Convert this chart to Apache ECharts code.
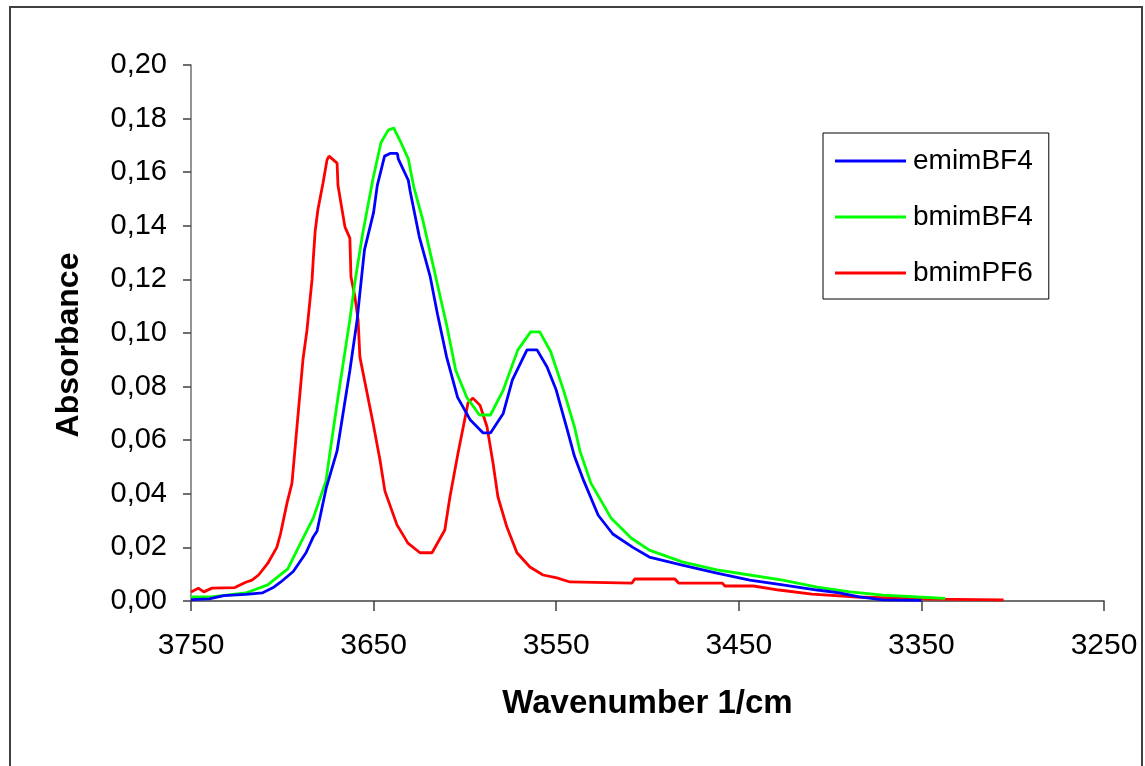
<!DOCTYPE html>
<html>
<head>
<meta charset="utf-8">
<script src="https://cdn.jsdelivr.net/npm/echarts@6/dist/echarts.min.js"></script>
<style>
html,body{margin:0;padding:0;background:#fff;}
#chart{width:1145px;height:766px;}
</style>
</head>
<body>
<div id="chart"></div>
<script>
// Wavenumber (1/cm) and absorbance values
var emimWn = [3750,3740,3732,3720,3711,3705,3701,3694,3687,3683,3681,3676,3670,3663,3659,3657.5,3655,3650,3648,3644,3641,3637,3636.5,3631,3630,3625,3619,3615,3610,3604,3597,3590,3586,3579,3574,3566,3560.5,3555,3550,3544,3540,3535,3527,3519,3508,3499,3481,3462,3444,3426,3407,3395,3384,3371,3350];
var emimAbs = [0.0005,0.0008,0.002,0.0025,0.003,0.005,0.007,0.011,0.018,0.024,0.026,0.042,0.056,0.086,0.105,0.115,0.131,0.145,0.155,0.166,0.167,0.167,0.165,0.157,0.153,0.136,0.121,0.107,0.091,0.076,0.0675,0.0627,0.0627,0.070,0.0825,0.0937,0.0937,0.0873,0.0787,0.064,0.054,0.045,0.032,0.025,0.020,0.0164,0.0134,0.0104,0.0078,0.006,0.0041,0.003,0.0015,0.0004,0.0002];

var bmimBF4Wn = [3750,3739,3720,3708,3697,3690,3683,3676,3674,3669.5,3663,3660,3656,3650.5,3646,3642,3639,3635,3631,3628,3623,3618,3610,3605,3599,3592,3586,3579,3571,3564,3559,3553,3546,3540,3537,3531,3520,3509,3499,3481,3462,3444,3426,3407,3389,3371,3352,3337];
var bmimBF4Abs = [0.0015,0.0015,0.003,0.006,0.012,0.0216,0.031,0.045,0.055,0.076,0.105,0.12,0.137,0.157,0.171,0.1757,0.1765,0.171,0.165,0.1545,0.142,0.127,0.103,0.086,0.076,0.0694,0.0694,0.0787,0.0937,0.1004,0.1004,0.093,0.0787,0.065,0.056,0.044,0.031,0.0235,0.019,0.0146,0.0116,0.0097,0.0078,0.0052,0.0034,0.0022,0.0015,0.001];

var bmimPF6Wn = [3750,3746,3743,3738.5,3726,3720,3716.6,3713,3708,3703,3701,3697.4,3694.7,3693,3688.7,3686.5,3683.7,3683,3682,3680.5,3677.7,3675.5,3674.4,3670,3669.5,3665.7,3663,3662.4,3660.2,3658.5,3657.5,3650.3,3646.5,3643.8,3637.2,3631.2,3624.6,3618,3611,3608.2,3603.8,3598.3,3595.6,3591.7,3587.9,3584.6,3581.9,3577,3571.5,3564.4,3557.2,3549.6,3542.5,3508.5,3507,3485,3483,3459,3457.6,3442,3428,3410,3385,3345,3305];
var bmimPF6Abs = [0.0034,0.0048,0.0034,0.0048,0.005,0.007,0.0078,0.0097,0.014,0.020,0.025,0.0366,0.044,0.057,0.09,0.101,0.12,0.128,0.138,0.146,0.156,0.1646,0.166,0.1634,0.155,0.1396,0.1354,0.121,0.1134,0.105,0.091,0.0664,0.0526,0.041,0.0284,0.0216,0.018,0.018,0.0265,0.0388,0.055,0.0739,0.0757,0.073,0.065,0.0515,0.0388,0.0276,0.018,0.0127,0.0097,0.0086,0.0071,0.0067,0.0082,0.0082,0.0067,0.0067,0.0056,0.0056,0.0041,0.0026,0.0015,0.0007,0.0004];

var seriesNames = ['emimBF4','bmimBF4','bmimPF6'];
var seriesColors = ['#0000ff','#00ff00','#ff0000'];
var xTickStart = 3250, xTickEnd = 3750, xTickStep = 100;
var yMax = 0.20, yStep = 0.02;

function pairs(wn, ab){
  var out = [];
  for (var i = 0; i < wn.length; i++) out.push([wn[i] - xTickStart, ab[i]]);
  return out;
}

var font = '"Liberation Sans", Arial, sans-serif';
var chart = echarts.init(document.getElementById('chart'), null, {renderer:'canvas'});
var datasets = [pairs(emimWn, emimAbs), pairs(bmimBF4Wn, bmimBF4Abs), pairs(bmimPF6Wn, bmimPF6Abs)];

chart.setOption({
  backgroundColor: '#ffffff',
  animation: false,
  graphic: [{
    type: 'rect', shape: {x: 10, y: 7, width: 1132, height: 790},
    style: {fill: 'none', stroke: '#404040', lineWidth: 2}, z: -1
  }],
  grid: {left: 191, right: 41, top: 65, bottom: 165, containLabel: false},
  legend: {
    orient: 'vertical', left: 823, top: 133,
    data: seriesNames,
    icon: 'rect', itemWidth: 71, itemHeight: 3, itemGap: 26,
    padding: [13, 16, 11, 12],
    borderColor: '#000', borderWidth: 1,
    textStyle: {fontFamily: font, fontSize: 28, color: '#000', lineHeight: 30, padding: [0,0,0,2]}
  },
  xAxis: {
    type: 'value', inverse: true,
    min: 0, max: xTickEnd - xTickStart, interval: xTickStep,
    name: 'Wavenumber 1/cm', nameLocation: 'middle', nameGap: 86,
    nameTextStyle: {fontFamily: font, fontSize: 33, fontWeight: 'bold', color: '#000'},
    axisLine: {onZero: false, lineStyle: {color: '#404040', width: 1.5}},
    axisTick: {show: true, inside: false, length: 10, lineStyle: {color: '#404040', width: 1.5}},
    axisLabel: {fontFamily: font, fontSize: 30, color: '#000', margin: 30,
      formatter: function(v){ return String(v + xTickStart); }},
    splitLine: {show: false}
  },
  yAxis: {
    type: 'value', position: 'left', min: 0, max: yMax, interval: yStep,
    name: 'Absorbance', nameLocation: 'middle', nameGap: 106, nameRotate: 90,
    nameTextStyle: {fontFamily: font, fontSize: 32, fontWeight: 'bold', color: '#000', padding: [0, 24, 0, 0]},
    axisLine: {show: true, onZero: false, lineStyle: {color: '#707070', width: 1.5}},
    axisTick: {show: true, inside: false, length: 8, lineStyle: {color: '#404040', width: 1.5}},
    axisLabel: {fontFamily: font, fontSize: 29, color: '#000', margin: 24,
      formatter: function(v){ return v.toFixed(2).replace('.', ','); }},
    splitLine: {show: false}
  },
  series: seriesNames.map(function(n, i){
    return {
      name: n, type: 'line', data: datasets[i],
      symbol: 'none', smooth: false,
      lineStyle: {color: seriesColors[i], width: 2.8},
      itemStyle: {color: seriesColors[i]},
      z: 3 - i
    };
  })
});
</script>
</body>
</html>
